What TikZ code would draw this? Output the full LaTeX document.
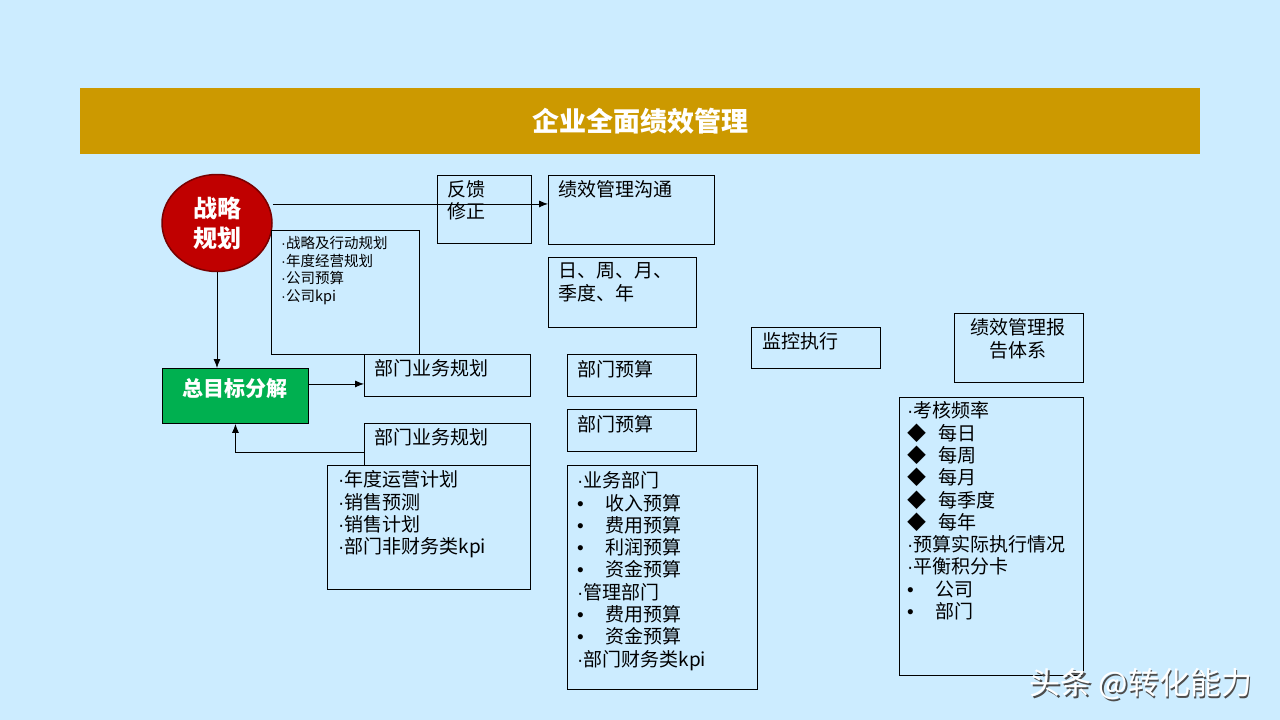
\documentclass[tikz,border=0pt]{standalone}
\usepackage{fontspec}
\setmainfont{Noto Sans CJK SC}
\newfontfamily\latinf{Liberation Sans}
\usetikzlibrary{arrows.meta,shapes.geometric}
\definecolor{bg}{RGB}{204,236,255}
\definecolor{gold}{RGB}{204,153,0}
\definecolor{redfill}{RGB}{192,0,0}
\definecolor{redline}{RGB}{120,0,0}
\definecolor{grn}{RGB}{0,176,80}
\newcommand\md{{\latinf ·}}
\newcommand\bulitem[1]{\makebox[28pt][l]{\latinf •}#1}
\newcommand\diaitem[1]{\makebox[31pt][l]{◆}#1}
\tikzset{
  box/.style={draw=black, line width=0.9pt, inner sep=0, anchor=north west},
  txt/.style={anchor=north west, inner sep=0, align=left, font=\fontsize{19}{22.3}\selectfont},
  small/.style={anchor=north west, inner sep=0, align=left, font=\fontsize{14.5}{17.7}\selectfont},
  arr/.style={-{Latex[length=9pt,width=7pt]}, line width=0.8pt, draw=black}
}
\begin{document}
\begin{tikzpicture}[x=1pt,y=-1pt]
\fill[bg] (0,0) rectangle (1280,720);
\useasboundingbox (0,0) rectangle (1280,720);
% title
\node[fill=gold, minimum width=1120pt, minimum height=66pt, inner sep=0, anchor=north west,
      text=white, font=\fontsize{27}{30}\selectfont\bfseries] (title) at (80,88) {企业全面绩效管理};
% strategy circle
\node[ellipse, fill=redfill, draw=redline, line width=1.5pt, minimum width=110pt, minimum height=97pt,
      inner sep=0, text=white, align=center, font=\fontsize{24}{30}\selectfont\bfseries] (zl) at (217,223) {战略\\规划};
% boxes
\node[box, minimum width=94pt, minimum height=68pt] (fk) at (437,175) {};
\node[box, minimum width=166pt, minimum height=69pt] (gt) at (548,175) {};
\node[box, minimum width=148pt, minimum height=70pt] (rq) at (548,257) {};
\node[box, minimum width=148pt, minimum height=124pt] (zlist) at (271,230) {};
\node[box, fill=grn, minimum width=146pt, minimum height=55pt] (zm) at (162,368) {};
\node[text=white, inner sep=0, font=\fontsize{21}{24}\selectfont\bfseries] at ([yshift=7pt]zm.center) {总目标分解};
\node[box, minimum width=166pt, minimum height=42pt] (bm1) at (364,354) {};
\node[box, minimum width=166pt, minimum height=42pt] (bm2) at (364,423) {};
\node[box, minimum width=203pt, minimum height=124pt] (blist) at (327,465) {};
\node[box, minimum width=129pt, minimum height=42pt] (ys1) at (567,354) {};
\node[box, minimum width=129pt, minimum height=42pt] (ys2) at (567,409) {};
\node[box, minimum width=190pt, minimum height=224pt] (yslist) at (567,465) {};
\node[box, minimum width=129pt, minimum height=41pt] (jk) at (751,327) {};
\node[box, minimum width=129pt, minimum height=69pt] (bg) at (954,313) {};
\node[box, minimum width=184pt, minimum height=278pt] (pl) at (899,397) {};
% texts
\node[txt] at (447,180.5) {反馈\\修正};
\node[txt] at (558,180.5) {绩效管理沟通};
\node[txt] at (558,262.5) {日、周、月、\\季度、年};
\node[small] at (281,236) {\md 战略及行动规划\\\md 年度经营规划\\\md 公司预算\\\md 公司kpi};
\node[txt] at (374,359.5) {部门业务规划};
\node[txt] at (374,428.5) {部门业务规划};
\node[txt] at (338,470.5) {\md 年度运营计划\\\md 销售预测\\\md 销售计划\\\md 部门非财务类kpi};
\node[txt] at (577,360.5) {部门预算};
\node[txt] at (577,415.5) {部门预算};
\node[txt] at (577,471.5) {\md 业务部门\\\bulitem{收入预算}\\\bulitem{费用预算}\\\bulitem{利润预算}\\\bulitem{资金预算}\\\md 管理部门\\\bulitem{费用预算}\\\bulitem{资金预算}\\\md 部门财务类kpi};
\node[txt] at (762,332.5) {监控执行};
\node[txt, anchor=north, align=center] at (1018,318.5) {绩效管理报\\告体系};
\node[txt] at (907,401.5) {\md 考核频率\\\diaitem{每日}\\\diaitem{每周}\\\diaitem{每月}\\\diaitem{每季度}\\\diaitem{每年}\\\md 预算实际执行情况\\\md 平衡积分卡\\\bulitem{公司}\\\bulitem{部门}};
% connectors
\draw[arr] ([yshift=6pt]zl.east |- gt.west) -- ([yshift=6pt]gt.west);
\draw[arr] (zl.south) -- (zl.south |- zm.north);
\draw[arr] ([yshift=12pt]zm.east) -- ([yshift=12pt]zm.east -| bm1.west);
\draw[arr] ([yshift=-8pt]bm2.west) -| (zm.south);
% watermark
\node[inner sep=0, text=black!70, font=\fontsize{31}{34}\selectfont] at (1142.5,686.5) {头条 @转化能力};
\node[inner sep=0, text=white, font=\fontsize{31}{34}\selectfont] (wm) at (1141,684) {头条 @转化能力};
\end{tikzpicture}
\end{document}
